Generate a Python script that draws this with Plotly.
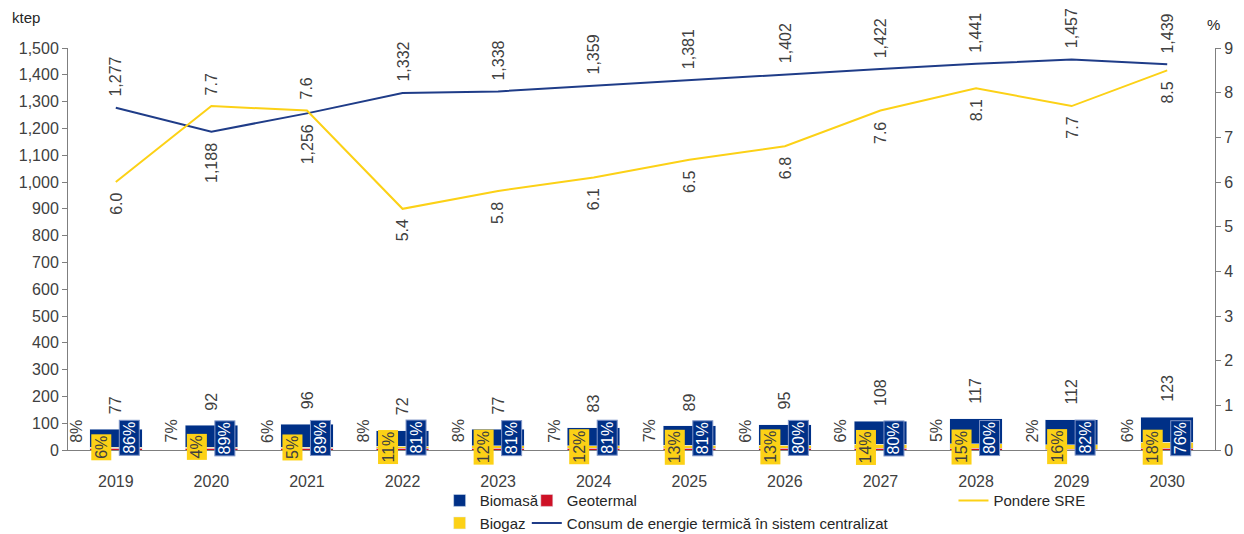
import plotly.graph_objects as go

years = ["2019", "2020", "2021", "2022", "2023", "2024", "2025", "2026", "2027", "2028", "2029", "2030"]
total_sre = [77, 92, 96, 72, 77, 83, 89, 95, 108, 117, 112, 123]
pct_biomasa = [86, 89, 89, 81, 81, 81, 81, 80, 80, 80, 82, 76]
pct_biogaz = [6, 4, 5, 11, 12, 12, 13, 13, 14, 15, 16, 18]
pct_geotermal = [8, 7, 6, 8, 8, 7, 7, 6, 6, 5, 2, 6]
consum = [1277, 1188, 1256, 1332, 1338, 1359, 1381, 1402, 1422, 1441, 1457, 1439]
pondere = [6.0, 7.7, 7.6, 5.4, 5.8, 6.1, 6.5, 6.8, 7.6, 8.1, 7.7, 8.5]
consum_below = [False, True, True] + [False] * 9
pondere_above = [False, True, True] + [False] * 9

NAVY = "#003087"
RED = "#CE1126"
YELLOW = "#FCD116"
LINE_BLUE = "#1F3C88"
TEXT = "#404040"
FONT = "Liberation Sans, Arial, sans-serif"

biomasa = [t * p / 100 for t, p in zip(total_sre, pct_biomasa)]
biogaz = [t * p / 100 for t, p in zip(total_sre, pct_biogaz)]
geotermal = [t * p / 100 for t, p in zip(total_sre, pct_geotermal)]

fig = go.Figure()
fig.add_bar(x=years, y=geotermal, name="Geotermal", marker_color=RED, legend="legend2",
            legendrank=1)
fig.add_bar(x=years, y=biogaz, name="Biogaz", marker_color=YELLOW, legend="legend",
            legendrank=2)
fig.add_bar(x=years, y=biomasa, name="Biomasă", marker_color=NAVY, legend="legend",
            legendrank=1)
fig.add_scatter(x=years, y=consum, mode="lines", name="Consum de energie termică în sistem centralizat",
                line=dict(color=LINE_BLUE, width=2), legend="legend2", legendrank=2)
fig.add_scatter(x=years, y=pondere, mode="lines", name="Pondere SRE", yaxis="y2",
                line=dict(color=YELLOW, width=2), legend="legend3")

ann = []
lbl_font = dict(family=FONT, size=16, color=TEXT)
# annotations use the category index so the numeric-looking labels are not read as positions
for i in range(len(years)):
    # total above bar
    ann.append(dict(x=i, y=total_sre[i], text=str(total_sre[i]), textangle=-90, showarrow=False,
                    yanchor="bottom", yshift=13, font=lbl_font))
    # geotermal share, outside left
    ann.append(dict(x=i, y=0, text=f"{pct_geotermal[i]}%", textangle=-90, showarrow=False,
                    xshift=-40, yshift=19, font=lbl_font))
    # biogaz share, yellow box
    ann.append(dict(x=i, y=0, text=f"{pct_biogaz[i]}%", textangle=-90, showarrow=False,
                    xshift=-15, yshift=3, bgcolor=YELLOW, borderpad=1,
                    font=dict(family=FONT, size=16, color=TEXT)))
    # biomasa share, navy box
    ann.append(dict(x=i, y=0, text=f"{pct_biomasa[i]}%", textangle=-90, showarrow=False,
                    xshift=13, yshift=12, bgcolor=NAVY, bordercolor="#7F95C8", borderwidth=1,
                    borderpad=1, font=dict(family=FONT, size=16, color="white")))
    # consum line label
    ann.append(dict(x=i, y=consum[i], text=f"{consum[i]:,}", textangle=-90, showarrow=False,
                    yanchor="top" if consum_below[i] else "bottom",
                    yshift=-9 if consum_below[i] else 9, font=lbl_font))
    # pondere line label
    ann.append(dict(x=i, y=pondere[i], yref="y2", text=f"{pondere[i]:.1f}", textangle=-90,
                    showarrow=False, yanchor="bottom" if pondere_above[i] else "top",
                    yshift=9 if pondere_above[i] else -9, font=lbl_font))

ann.append(dict(x=0, y=1, xref="paper", yref="paper", xanchor="left", yanchor="bottom",
                xshift=-58, yshift=20, text="ktep", showarrow=False,
                font=dict(family=FONT, size=15, color="#262626")))
ann.append(dict(x=1, y=1, xref="paper", yref="paper", xanchor="center", yanchor="bottom",
                xshift=-2, yshift=13, text="%", showarrow=False,
                font=dict(family=FONT, size=15, color="#262626")))

leg_common = dict(orientation="v", yanchor="top", xanchor="left", font=dict(family=FONT, size=15, color="#262626"),
                  bgcolor="rgba(0,0,0,0)", tracegroupgap=0, itemwidth=30, traceorder="normal")

# page body adds an 8px offset, so the figure is sized a little smaller
fig.update_layout(
    width=1236,
    height=526,
    margin=dict(l=60, r=29, t=40, b=84, autoexpand=False),
    barmode="stack",
    bargap=0.45,
    plot_bgcolor="white",
    paper_bgcolor="white",
    font=dict(family=FONT, size=16, color=TEXT),
    annotations=ann,
    showlegend=True,
    legend=dict(x=0.324, y=-0.085, **leg_common),
    legend2=dict(x=0.400, y=-0.085, **leg_common),
    legend3=dict(x=0.772, y=-0.085, **leg_common),
    xaxis=dict(type="category", range=[-0.5, len(years) - 0.5], showline=True, linecolor="#7f7f7f",
               linewidth=1, ticks="", showgrid=False, ticklabelstandoff=17,
               tickfont=dict(family=FONT, size=16, color=TEXT)),
    yaxis=dict(range=[0, 1500], dtick=100, tickformat=",", showline=True, linecolor="#7f7f7f",
               linewidth=1, ticks="outside", ticklen=5, tickcolor="#7f7f7f", showgrid=False,
               zeroline=False, tickfont=dict(family=FONT, size=16, color=TEXT)),
    yaxis2=dict(range=[0, 9], dtick=1, overlaying="y", side="right", showline=True,
                linecolor="#7f7f7f", linewidth=1, ticks="outside", ticklen=5, tickcolor="#7f7f7f",
                showgrid=False, zeroline=False, tickfont=dict(family=FONT, size=16, color=TEXT)),
)

fig.write_html("out.html")
